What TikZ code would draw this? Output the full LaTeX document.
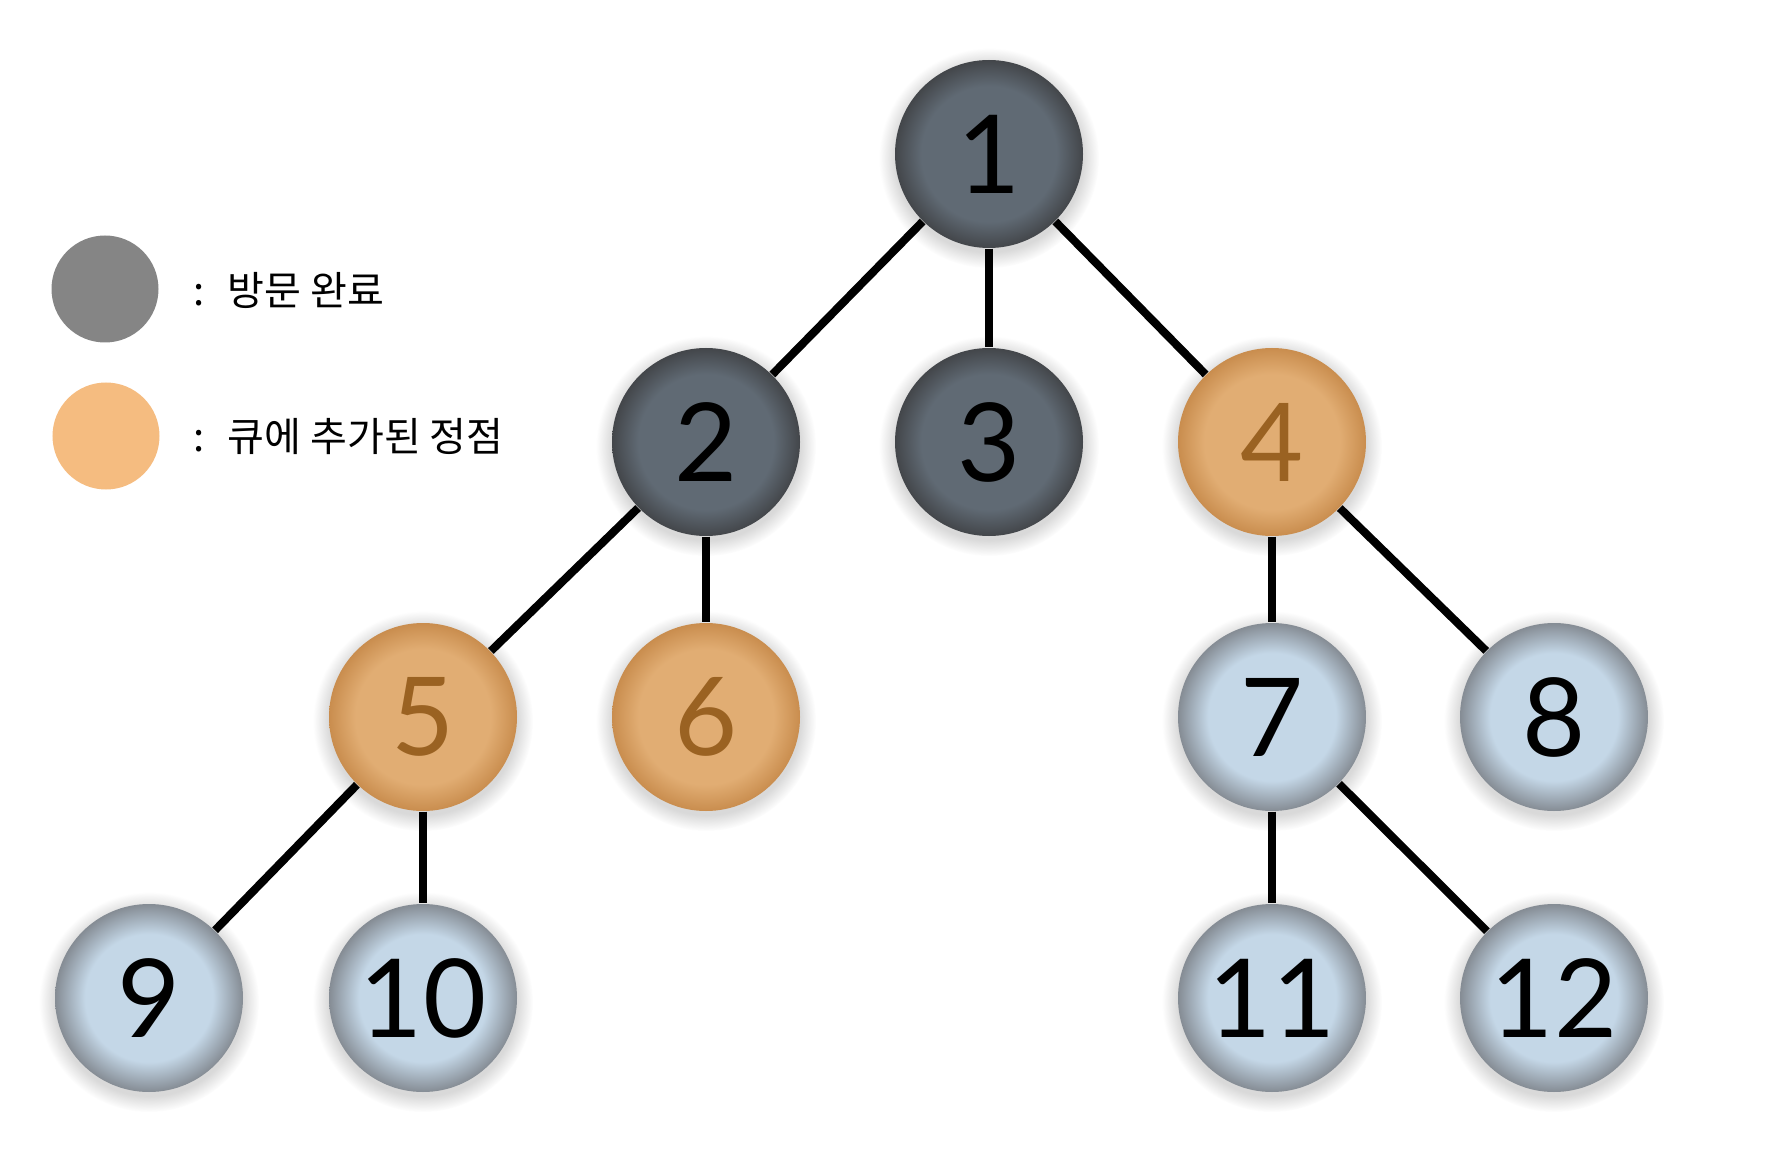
\documentclass[tikz,border=0pt]{standalone}
\usepackage{fontspec}
\setmainfont{Lato}
\newfontfamily\kofont{Noto Sans CJK KR}
\usetikzlibrary{shadows}

\definecolor{doneIn}{HTML}{606A74}
\definecolor{doneOut}{HTML}{43464A}
\definecolor{queueIn}{HTML}{E1AD73}
\definecolor{queueOut}{HTML}{C98D4E}
\definecolor{queueText}{HTML}{9A6222}
\definecolor{restIn}{HTML}{C4D7E7}
\definecolor{restOut}{HTML}{858C94}
\definecolor{legDone}{HTML}{858585}
\definecolor{legQueue}{HTML}{F5BC80}

\pgfdeclareradialshading{doneball}{\pgfpoint{0bp}{0bp}}{color(0bp)=(doneIn); color(18bp)=(doneIn); color(25bp)=(doneOut); color(50bp)=(doneOut)}
\pgfdeclareradialshading{queueball}{\pgfpoint{0bp}{0bp}}{color(0bp)=(queueIn); color(18bp)=(queueIn); color(25bp)=(queueOut); color(50bp)=(queueOut)}
\pgfdeclareradialshading{restball}{\pgfpoint{0bp}{0bp}}{color(0bp)=(restIn); color(17bp)=(restIn); color(25bp)=(restOut); color(50bp)=(restOut)}

\tikzset{
    vtx/.style={circle, minimum size=1.88cm, inner sep=0pt,
        font=\fontsize{31}{37}\selectfont,
        circular drop shadow={shadow xshift=0pt, shadow yshift=-1pt,
            shadow scale=1.17, opacity=0.3}},
    done/.style={vtx, shade, shading=doneball, text=black},
    queued/.style={vtx, shade, shading=queueball, text=queueText},
    rest/.style={vtx, shade, shading=restball, text=black},
    edge/.style={line width=2.3pt, black},
    legdot/.style={circle, minimum size=1.07cm, inner sep=0pt},
    legtext/.style={anchor=base west, inner sep=0pt, font=\kofont\fontsize{11.4}{13}\selectfont}
}

\begin{document}
\begin{tikzpicture}

    \useasboundingbox (0,0) rectangle (17.92,11.48);

    % ==========================================
    % LEGENDA
    % ==========================================

    \node[legdot, fill=legDone] (legdone) at (1.05,8.59) {};
    \node[legtext] (txtdone) at (1.93,8.43) {:\hspace{6.5pt}방문 완료};

    \node[legdot, fill=legQueue] (legqueue) at (1.06,7.12) {};
    \node[legtext] (txtqueue) at (1.93,6.96) {:\hspace{6.5pt}큐에 추가된 정점};

    % ==========================================
    % VERTICI
    % ==========================================

    % livello 0
    \node[done] (n1) at (9.89,9.94) {1};

    % livello 1
    \node[done] (n2) at (7.06,7.06) {2};
    \node[done] (n3) at (9.89,7.06) {3};
    \node[queued] (n4) at (12.72,7.06) {4};

    % livello 2
    \node[queued] (n5) at (4.23,4.31) {5};
    \node[queued] (n6) at (7.06,4.31) {6};
    \node[rest] (n7) at (12.72,4.31) {7};
    \node[rest] (n8) at (15.54,4.31) {8};

    % livello 3
    \node[rest] (n9) at (1.49,1.50) {9};
    \node[rest] (n10) at (4.23,1.50) {10};
    \node[rest] (n11) at (12.72,1.50) {11};
    \node[rest] (n12) at (15.54,1.50) {12};

    % ==========================================
    % ARCHI
    % ==========================================

    \draw[edge] (n1) -- (n2);
    \draw[edge] (n1) -- (n3);
    \draw[edge] (n1) -- (n4);
    \draw[edge] (n2) -- (n5);
    \draw[edge] (n2) -- (n6);
    \draw[edge] (n4) -- (n7);
    \draw[edge] (n4) -- (n8);
    \draw[edge] (n5) -- (n9);
    \draw[edge] (n5) -- (n10);
    \draw[edge] (n7) -- (n11);
    \draw[edge] (n7) -- (n12);

\end{tikzpicture}
\end{document}
